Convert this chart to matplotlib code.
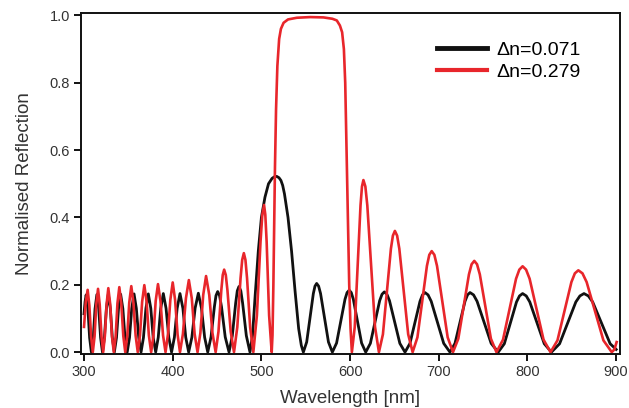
import numpy as np
import matplotlib
matplotlib.use("Agg")
import matplotlib.pyplot as plt

# espectro de reflexion (nm, reflexion normalizada)
lambda_negro = [300, 301.2, 302.4,
                304.4, 306.3, 308.3, 310.4, 312.4, 314.5,
                316.6, 318.7, 320.8, 323.0, 325.2, 327.4,
                329.7, 331.9, 334.2, 336.6, 338.9, 341.3,
                343.8, 346.2, 348.7, 351.3, 353.8, 356.4,
                359.0, 361.7, 364.3, 367.0, 369.8, 372.5,
                375.3, 378.0, 380.8, 383.7, 386.5, 389.4,
                392.5, 395.6, 398.7, 401.9, 405.0, 408.2,
                411.5, 414.7, 418.0, 421.6, 425.3, 428.9,
                432.4, 436.0, 439.5, 443.2, 447.0, 448.8, 450.7, 452.8,
                455.0, 459.2, 463.5, 467.2, 471.0, 472.8, 474.7, 476.8,
                478.8, 483.0, 487.1,
                490, 493, 496.5, 500, 504, 508, 512, 514.8, 517.2, 519.8, 522, 524, 526, 530,
                534, 538, 542, 545, 547.3,
                551.05, 554.8, 558.55, 560.4, 562.3, 564.5, 566.7, 571.15, 575.6, 580,
                584.75, 589.5, 594.25, 596.6, 599, 601.3, 603.65, 608.3, 612.95, 617.6,
                622.85, 628.1, 633.35, 636, 638.6, 641.5, 644.4, 650.25, 656.1, 661.9,
                667.5, 673.15, 678.8, 681.6, 684.4, 687.9, 691.45, 698.5, 705.55, 712.6,
                718.25, 723.9, 729.55, 732.4, 735.2, 739.2, 743.15, 751.1, 759.05, 767,
                773.9, 780.75, 787.6, 791, 794.5, 798.6, 802.6, 810.75, 818.9, 827,
                836.2, 845.35, 854.5, 859.1, 863.7, 868.6, 873.5, 883.35, 893.2, 900]
r_negro = [0.114, 0.15, 0.17,
           0.128, 0.043, 0, 0.043, 0.128, 0.171,
           0.128, 0.043, 0, 0.043, 0.129, 0.172,
           0.129, 0.043, 0, 0.043, 0.129, 0.172,
           0.129, 0.043, 0, 0.043, 0.13, 0.173,
           0.13, 0.043, 0, 0.043, 0.13, 0.173,
           0.13, 0.043, 0, 0.044, 0.13, 0.174,
           0.13, 0.044, 0, 0.044, 0.13, 0.174,
           0.13, 0.044, 0, 0.044, 0.131, 0.175,
           0.131, 0.044, 0, 0.045, 0.135, 0.168, 0.18, 0.168,
           0.135, 0.045, 0, 0.049, 0.146, 0.182, 0.195, 0.182,
           0.146, 0.049, 0,
           0.05, 0.17, 0.30, 0.40, 0.46, 0.50, 0.516, 0.521, 0.522, 0.518, 0.51, 0.495, 0.47, 0.40,
           0.30, 0.18, 0.07, 0.02, 0,
           0.03, 0.102, 0.174, 0.196, 0.204, 0.196, 0.174, 0.102, 0.03, 0,
           0.027, 0.092, 0.157, 0.177, 0.184, 0.177, 0.157, 0.092, 0.027, 0,
           0.026, 0.09, 0.153, 0.172, 0.179, 0.172, 0.153, 0.09, 0.026, 0,
           0.026, 0.089, 0.151, 0.17, 0.177, 0.17, 0.151, 0.089, 0.026, 0,
           0.026, 0.089, 0.151, 0.17, 0.177, 0.17, 0.151, 0.089, 0.026, 0,
           0.025, 0.087, 0.149, 0.167, 0.174, 0.167, 0.149, 0.087, 0.025, 0,
           0.025, 0.087, 0.149, 0.167, 0.174, 0.167, 0.149, 0.087, 0.025, 0.008]

lambda_rojo = [300, 302, 304.1,
               306.0, 308.0, 309.9, 311.9, 313.8, 315.8,
               317.7, 319.7, 321.6, 323.5, 325.5, 327.4,
               329.5, 331.5, 333.6, 335.7, 337.7, 339.8,
               342.0, 344.3, 346.5, 348.8, 351.0, 353.3,
               355.7, 358.2, 360.6, 363.1, 365.5, 368.0,
               370.6, 373.1, 375.7, 378.3, 380.8, 383.4,
               386.2, 389.1, 391.9, 394.6, 397.3, 400.0,
               402.7, 405.5, 408.2, 411.5, 414.9, 418.2,
               421.5, 424.7, 428.0, 431.2, 434.4, 437.6,
               441.2, 444.8, 448.4, 451.6, 454.8, 456.4, 458.0, 459.85,
               461.7, 465.4, 469.1, 472.8, 476.5, 478.35, 480.2, 482.0,
               483.8, 487.3, 490.9, 494.9, 499.0, 501.0, 503.0, 504.4,
               505.9, 508.7, 511.6,
               512.5, 513.5, 514.5, 515.3, 516.5, 518, 520, 522, 525, 530, 540, 555,
               570, 580, 585, 588.5, 591, 593, 594.5, 596, 597.5, 599, 600.5, 602,
               605.25, 608.5, 611.75, 613.4, 615, 617.2, 619.4, 623.75, 628.1, 632.5,
               637, 641.5, 646, 648.25, 650.5, 653, 655.5, 660.5, 665.5, 670.5,
               675.9, 681.25, 686.6, 689.3, 692, 695, 698, 704, 710, 716,
               722, 728, 734, 737, 740, 743.1, 746.25, 752.5, 758.75, 765,
               772.4, 779.75, 787.1, 790.8, 794.5, 798.4, 802.4, 810.25, 818.1, 826,
               833.8, 841.65, 849.5, 853.4, 857.3, 862, 866.7, 876.15, 885.6, 895,
               898, 900.5]
r_rojo = [0.075, 0.15, 0.185,
          0.139, 0.046, 0, 0.047, 0.141, 0.188,
          0.141, 0.047, 0, 0.048, 0.143, 0.19,
          0.143, 0.048, 0, 0.048, 0.145, 0.193,
          0.145, 0.048, 0, 0.049, 0.147, 0.196,
          0.147, 0.049, 0, 0.05, 0.149, 0.199,
          0.149, 0.05, 0, 0.05, 0.152, 0.202,
          0.152, 0.05, 0, 0.052, 0.155, 0.207,
          0.155, 0.052, 0, 0.054, 0.16, 0.214,
          0.16, 0.054, 0, 0.057, 0.17, 0.226,
          0.17, 0.057, 0, 0.061, 0.184, 0.229, 0.245, 0.229,
          0.184, 0.061, 0, 0.074, 0.22, 0.274, 0.294, 0.274,
          0.22, 0.074, 0, 0.109, 0.328, 0.408, 0.437, 0.408,
          0.328, 0.109, 0,
          0.05, 0.2, 0.4, 0.55, 0.72, 0.85, 0.93, 0.96, 0.978, 0.988, 0.993, 0.995,
          0.994, 0.99, 0.985, 0.97, 0.95, 0.9, 0.8, 0.6, 0.4, 0.2, 0.07, 0,
          0.075, 0.256, 0.436, 0.492, 0.511, 0.492, 0.436, 0.256, 0.075, 0,
          0.053, 0.18, 0.307, 0.346, 0.36, 0.346, 0.307, 0.18, 0.053, 0,
          0.044, 0.15, 0.256, 0.289, 0.30, 0.289, 0.256, 0.15, 0.044, 0,
          0.04, 0.136, 0.231, 0.261, 0.271, 0.261, 0.231, 0.136, 0.04, 0,
          0.037, 0.128, 0.218, 0.245, 0.255, 0.245, 0.218, 0.128, 0.037, 0,
          0.035, 0.122, 0.208, 0.234, 0.243, 0.234, 0.208, 0.122, 0.035, 0,
          0.008, 0.03]

etiquetas = ["\u0394n=0.071", "\u0394n=0.279"]
marcas_x = [300, 400, 500, 600, 700, 800, 900]
marcas_y = [0.0, 0.2, 0.4, 0.6, 0.8, 1.0]

plt.rcParams["font.family"] = ["Liberation Sans", "DejaVu Sans"]
gris = "#333333"
rojo = "#e8262b"

fig = plt.figure(figsize=(6.29, 4.08), dpi=100)
ax = fig.add_axes([81 / 629, 1 - 353.5 / 408, 539 / 629, 340.8 / 408])

ax.plot(lambda_negro, r_negro, color="#111111", lw=2.0, label=etiquetas[0],
        solid_joinstyle="round")
ax.plot(lambda_rojo, r_rojo, color=rojo, lw=1.9, label=etiquetas[1],
        solid_joinstyle="round")

ax.set_xlim(296.6, 904.3)
ax.set_ylim(-0.004, 1.008)
ax.set_xticks(marcas_x)
ax.set_yticks(marcas_y)
ax.set_yticklabels(["%.1f" % v for v in marcas_y])

for lado in ax.spines.values():
    lado.set_linewidth(1.4)
    lado.set_color("#111111")
ax.tick_params(direction="out", length=5, width=1.4, labelsize=10.5,
               labelcolor=gris, color="#111111", pad=3)

ax.set_xlabel("Wavelength [nm]", fontsize=13.5, color=gris, labelpad=8)
ax.set_ylabel("Normalised Reflection", fontsize=13.5, color=gris, labelpad=12)

leg = ax.legend(loc="upper left", bbox_to_anchor=(0.6605, 0.915), frameon=False,
                fontsize=14, handlelength=2.55, handletextpad=0.5,
                labelspacing=0.2, borderpad=0, borderaxespad=0)
leg.get_lines()[0].set_linewidth(3.5)
leg.get_lines()[1].set_linewidth(3.0)

fig.savefig("out.png", dpi=100)
